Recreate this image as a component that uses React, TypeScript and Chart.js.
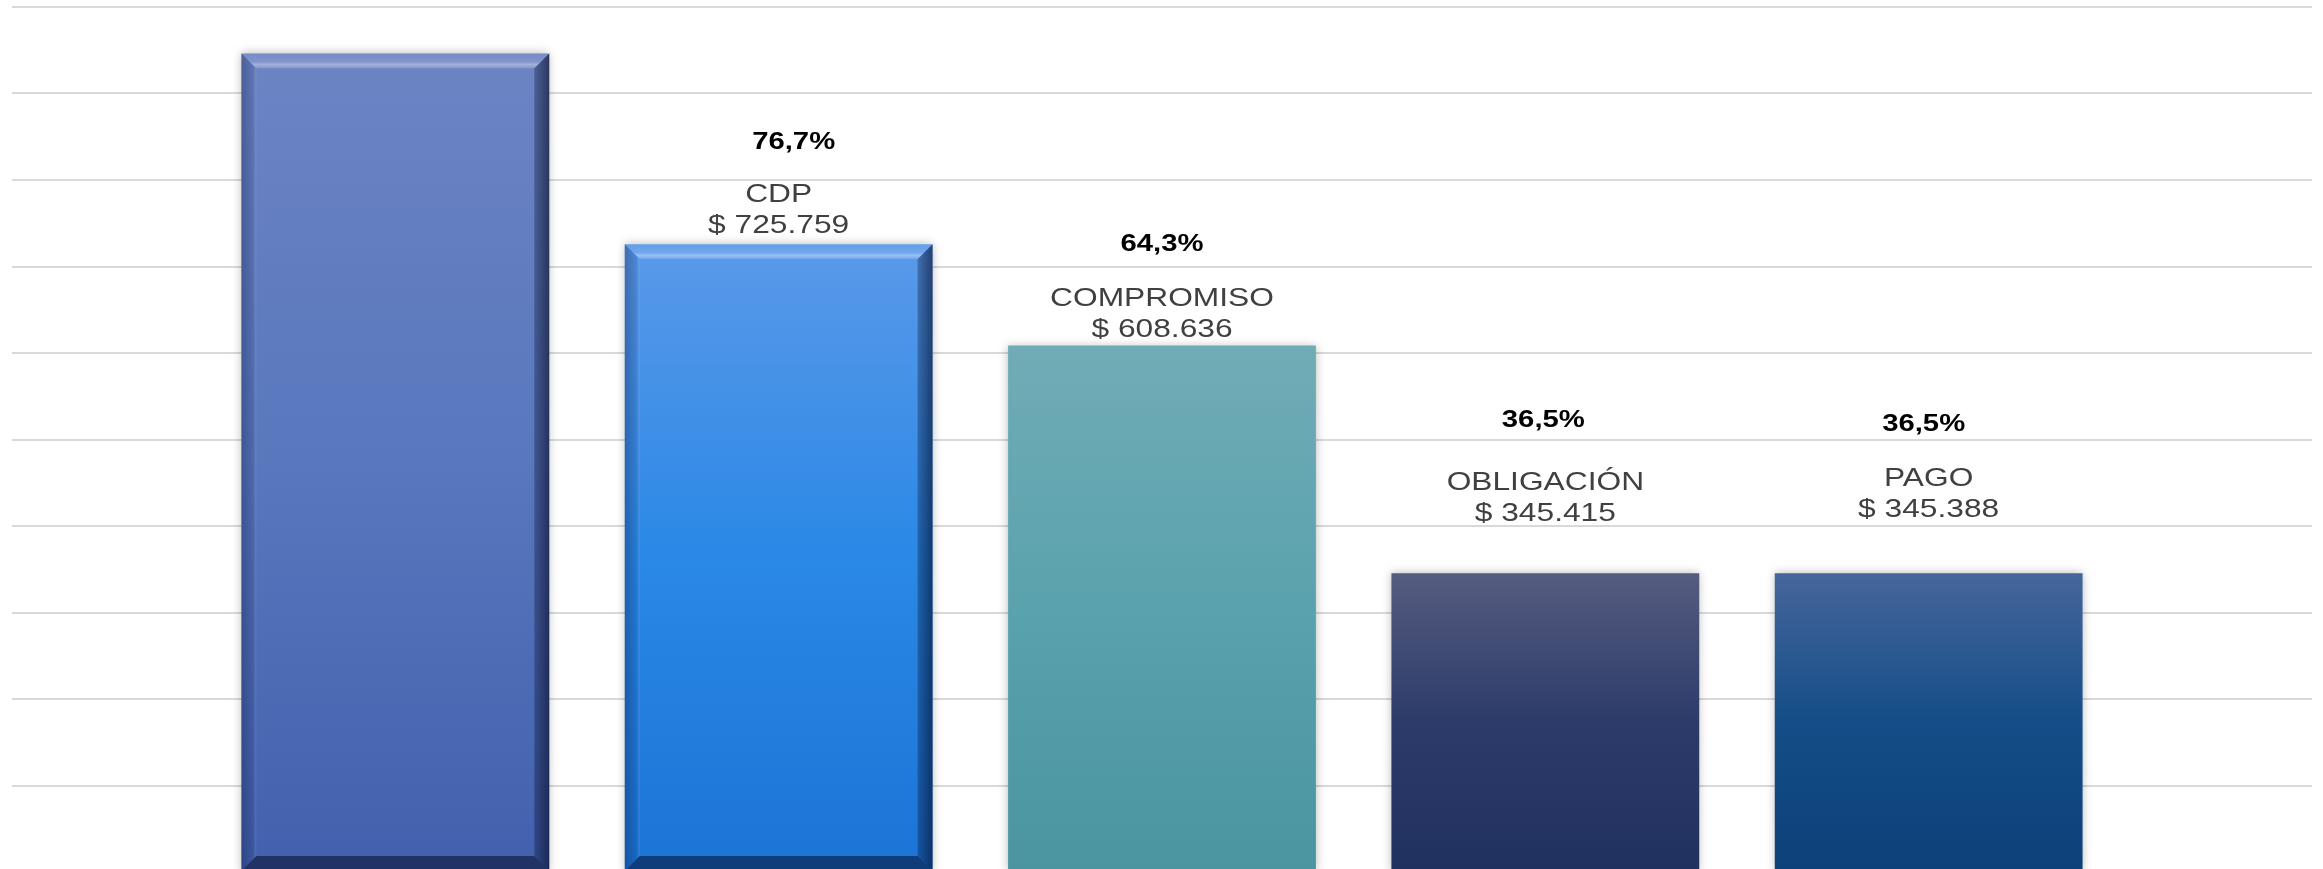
import React, { useEffect, useRef } from "react";
import { Chart, registerables } from "chart.js";

Chart.register(...registerables);

// ---- data ----
const categories = ["", "APROPIACIÓN", "CDP", "COMPROMISO", "OBLIGACIÓN", "PAGO", ""];
const values: (number | null)[] = [null, 946300, 725759, 608636, 345415, 345388, null];
const nameLabels: (string | null)[] = [null, null, "CDP", "COMPROMISO", "OBLIGACIÓN", "PAGO", null];
const valueLabels: (string | null)[] = [null, null, "$ 725.759", "$ 608.636", "$ 345.415", "$ 345.388", null];
const percentLabels: (string | null)[] = [null, null, "76,7%", "64,3%", "36,5%", "36,5%", null];
const yMax = 1000000;
const yStep = 100000;

// ---- styles / layout ----
const barFills: (string[] | null)[] = [
  null,
  ["#6c84c4", "#5877bd", "#4260ad"],
  ["#5a99e9", "#2a88e6", "#1c74d6"],
  ["#70acb6", "#5aa2ad", "#4a95a0"],
  ["#555c7f", "#2c3b69", "#21315f"],
  ["#46669b", "#144d87", "#0c4179"],
  null,
];
const bevelled = [false, true, true, false, false, false, false];
const valueLift = [0, 0, 18, 16, 59, 63, 0];
const percentLift = [0, 0, 102, 101, 153, 149, 0];
const percentDx = [0, 0, 15, 0, -2, -5, 0];
const lineGap = 31;
const stretch = 1.22;

const drawStretched = (ctx: CanvasRenderingContext2D, text: string, x: number, y: number, font: string, color: string) => {
  ctx.save();
  ctx.translate(x, y);
  ctx.scale(stretch, 1);
  ctx.font = font;
  ctx.fillStyle = color;
  ctx.textAlign = "center";
  ctx.textBaseline = "middle";
  ctx.fillText(text, 0, 0);
  ctx.restore();
};

const decorPlugin = {
  id: "decor",
  beforeDatasetDraw(chart: any) {
    const ctx = chart.ctx;
    ctx.save();
    ctx.shadowColor = "rgba(0,0,0,0.28)";
    ctx.shadowBlur = 9;
    ctx.shadowOffsetX = 0;
    ctx.shadowOffsetY = 0;
  },
  afterDatasetDraw(chart: any) {
    chart.ctx.restore();
  },
  afterDatasetsDraw(chart: any) {
    const ctx: CanvasRenderingContext2D = chart.ctx;
    const meta = chart.getDatasetMeta(0);
    meta.data.forEach((el: any, i: number) => {
      if (values[i] == null) return;
      const { x, y, base, width } = el.getProps(["x", "y", "base", "width"], true);
      const L = x - width / 2;
      const R = x + width / 2;
      const T = y;
      const B = base;
      if (bevelled[i]) {
        const b = 15;
        ctx.save();
        // top bevel
        ctx.beginPath();
        ctx.moveTo(L, T);
        ctx.lineTo(R, T);
        ctx.lineTo(R - b, T + b);
        ctx.lineTo(L + b, T + b);
        ctx.closePath();
        let g = ctx.createLinearGradient(0, T, 0, T + b);
        g.addColorStop(0, "rgba(255,255,255,0.06)");
        g.addColorStop(0.55, "rgba(255,255,255,0.14)");
        g.addColorStop(0.75, "rgba(255,255,255,0.38)");
        g.addColorStop(1, "rgba(255,255,255,0.12)");
        ctx.fillStyle = g;
        ctx.fill();
        // left bevel
        ctx.beginPath();
        ctx.moveTo(L, T);
        ctx.lineTo(L + b, T + b);
        ctx.lineTo(L + b, B - b);
        ctx.lineTo(L, B);
        ctx.closePath();
        g = ctx.createLinearGradient(L, 0, L + b, 0);
        g.addColorStop(0, "rgba(0,10,50,0.30)");
        g.addColorStop(0.8, "rgba(0,10,50,0.12)");
        g.addColorStop(1, "rgba(255,255,255,0.08)");
        ctx.fillStyle = g;
        ctx.fill();
        // right bevel
        ctx.beginPath();
        ctx.moveTo(R, T);
        ctx.lineTo(R, B);
        ctx.lineTo(R - b, B - b);
        ctx.lineTo(R - b, T + b);
        ctx.closePath();
        g = ctx.createLinearGradient(R - b, 0, R, 0);
        g.addColorStop(0, "rgba(0,5,30,0.28)");
        g.addColorStop(1, "rgba(0,5,30,0.6)");
        ctx.fillStyle = g;
        ctx.fill();
        // bottom bevel
        ctx.beginPath();
        ctx.moveTo(L, B);
        ctx.lineTo(R, B);
        ctx.lineTo(R - b, B - b);
        ctx.lineTo(L + b, B - b);
        ctx.closePath();
        ctx.fillStyle = "rgba(0,5,30,0.5)";
        ctx.fill();
        ctx.restore();
      }
      const vLine = valueLabels[i];
      const nLine = nameLabels[i];
      const pLine = percentLabels[i];
      const regular = "26px 'Liberation Sans', Arial, sans-serif";
      const bold = "bold 24px 'Liberation Sans', Arial, sans-serif";
      if (vLine) drawStretched(ctx, vLine, x, T - valueLift[i], regular, "#404040");
      if (nLine) drawStretched(ctx, nLine, x, T - valueLift[i] - lineGap, regular, "#404040");
      if (pLine) drawStretched(ctx, pLine, x + percentDx[i], T - percentLift[i], bold, "#000000");
    });
  },
};

export default function App() {
  const canvasRef = useRef<HTMLCanvasElement | null>(null);

  useEffect(() => {
    const canvas = canvasRef.current;
    if (!canvas) return;
    const chart = new Chart(canvas, {
      type: "bar",
      data: {
        labels: categories,
        datasets: [
          {
            data: values,
            borderWidth: 0,
            barPercentage: 0.803,
            categoryPercentage: 1,
            backgroundColor: (c: any) => {
              const i = c.dataIndex;
              const stops = barFills[i];
              const ys = c.chart.scales?.y;
              const v = values[i];
              if (!stops || !ys || v == null) return "rgba(0,0,0,0)";
              const top = ys.getPixelForValue(v);
              const bot = ys.getPixelForValue(0);
              if (!isFinite(top) || !isFinite(bot)) return stops[0];
              const g = c.chart.ctx.createLinearGradient(0, top, 0, bot);
              stops.forEach((s: string, k: number) => g.addColorStop(k / (stops.length - 1), s));
              return g;
            },
          },
        ],
      },
      options: {
        responsive: false,
        animation: false,
        devicePixelRatio: 1,
        layout: { padding: { left: 12, right: 11, top: 7, bottom: 8 } },
        plugins: {
          legend: { display: false },
          tooltip: { enabled: false },
          title: { display: false },
        },
        scales: {
          x: {
            display: false,
            offset: false,
            grid: { display: false },
          },
          y: {
            min: 0,
            max: yMax,
            ticks: { display: false, stepSize: yStep },
            border: { display: false },
            grid: { color: "#d9d9d9", lineWidth: 2, drawTicks: false },
            afterFit: (s: any) => {
              s.width = 0;
            },
          },
        },
      },
      plugins: [decorPlugin],
    } as any);
    return () => chart.destroy();
  }, []);

  return (
    <div style={{ position: "fixed", left: 0, top: 0, width: 2323, height: 880, background: "#ffffff", overflow: "hidden" }}>
      <canvas ref={canvasRef} width={2323} height={880} style={{ display: "block" }} />
    </div>
  );
}
